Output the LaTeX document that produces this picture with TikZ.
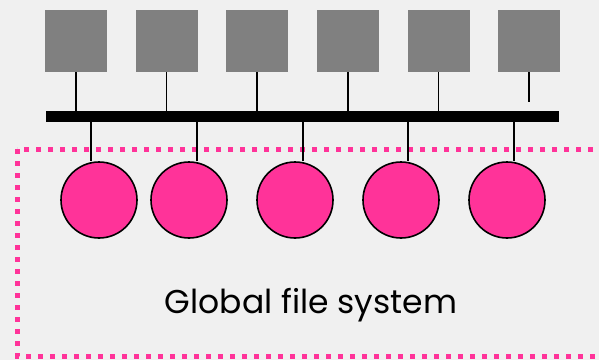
\documentclass[tikz,border=0pt]{standalone}
\usepackage{fontspec}
\setmainfont{Poppins}
\usepackage{tikz}
\definecolor{panel}{HTML}{F0F0F0}
\definecolor{pinkfs}{HTML}{FF3399}
\definecolor{hostgray}{HTML}{808080}

\begin{document}
\begin{tikzpicture}[x=1pt,y=-1pt]
\useasboundingbox (0,0) rectangle (599,360);
\fill[panel] (0,0) rectangle (599,360);
\clip (0,0) rectangle (599,360);

% file system frame
\draw[pinkfs, line width=5pt, dash pattern=on 5pt off 7pt] (17,149) rectangle (620,356);

% hosts
\node (s1) [fill=hostgray, minimum size=62pt, inner sep=0pt] at (76,41) {};
        \node (s2) [fill=hostgray, minimum size=62pt, inner sep=0pt] at (166.5,41) {};
        \node (s3) [fill=hostgray, minimum size=62pt, inner sep=0pt] at (257,41) {};
        \node (s4) [fill=hostgray, minimum size=62pt, inner sep=0pt] at (348,41) {};
        \node (s5) [fill=hostgray, minimum size=62pt, inner sep=0pt] at (438.5,41) {};
        \node (s6) [fill=hostgray, minimum size=62pt, inner sep=0pt] at (529,41) {};

% network
\node (bus) [fill=black, minimum width=513pt, minimum height=11pt, inner sep=0pt] at (302.5,116.5) {};
\coordinate (e6) at (529,102);
\coordinate (t1) at (91,122);
        \coordinate (t2) at (197,122);
        \coordinate (t3) at (303,122);
        \coordinate (t4) at (408,122);
        \coordinate (t5) at (514,122);

\draw[line width=1.8pt] (s1.south) -- (s1.south |- bus.north)
        (s2.south) -- (s2.south |- bus.north)
        (s3.south) -- (s3.south |- bus.north)
        (s4.south) -- (s4.south |- bus.north)
        (s5.south) -- (s5.south |- bus.north)
        (s6.south) -- (e6);

% disks
\node (d1) [circle, draw=black, line width=1.6pt, fill=pinkfs, minimum size=76pt, inner sep=0pt] at (99,200) {};
        \node (d2) [circle, draw=black, line width=1.6pt, fill=pinkfs, minimum size=76pt, inner sep=0pt] at (189,200) {};
        \node (d3) [circle, draw=black, line width=1.6pt, fill=pinkfs, minimum size=76pt, inner sep=0pt] at (295,200) {};
        \node (d4) [circle, draw=black, line width=1.6pt, fill=pinkfs, minimum size=76pt, inner sep=0pt] at (401,200) {};
        \node (d5) [circle, draw=black, line width=1.6pt, fill=pinkfs, minimum size=76pt, inner sep=0pt] at (507,200) {};

\draw[line width=1.8pt] (t1) -- (t1 |- d1.north)
        (t2) -- (t2 |- d2.north)
        (t3) -- (t3 |- d3.north)
        (t4) -- (t4 |- d4.north)
        (t5) -- (t5 |- d5.north);

\node (fs) [anchor=base, font=\fontsize{33}{38}\selectfont] at (311,313) {Global file system};
\end{tikzpicture}
\end{document}
